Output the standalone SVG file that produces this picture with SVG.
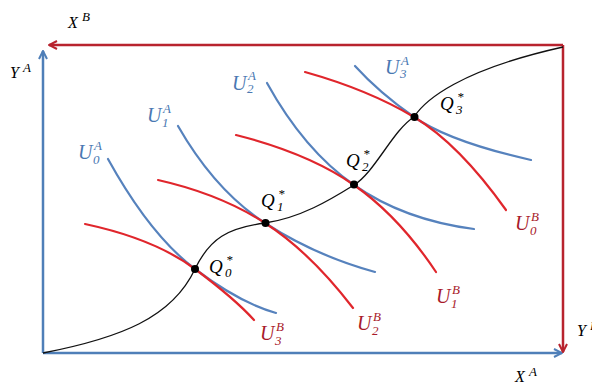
<svg xmlns="http://www.w3.org/2000/svg" width="592" height="383" viewBox="0 0 592 383">
<style>
.axA{stroke:#4f7fb8;stroke-width:2.5;fill:none}
.axB{stroke:#b8232e;stroke-width:2.5;fill:none}
.ua{stroke:#5682bd;stroke-width:2.2;fill:none;stroke-linecap:round}
.ub{stroke:#e0262c;stroke-width:2.2;fill:none;stroke-linecap:round}
.cc{stroke:#111;stroke-width:1.3;fill:none}
text{font-family:"Liberation Serif","DejaVu Serif",serif;font-style:italic}
.la{fill:#4a78b2;font-size:20px}
.lb{fill:#a8192a;font-size:20px}
.lq{fill:#000;font-size:19px}
.lx{fill:#000;font-size:16px}
.s{font-size:13px}
</style>
<defs>
<marker id="arA" viewBox="0 0 10 10" refX="9" refY="5" markerWidth="10" markerHeight="10" markerUnits="userSpaceOnUse" orient="auto">
<path d="M1,1 L9,5 L1,9" fill="none" stroke="#4f7fb8" stroke-width="2"/>
</marker>
<marker id="arB" viewBox="0 0 10 10" refX="9" refY="5" markerWidth="10" markerHeight="10" markerUnits="userSpaceOnUse" orient="auto">
<path d="M1,1 L9,5 L1,9" fill="none" stroke="#b8232e" stroke-width="2"/>
</marker>
</defs>
<g id="axes">
<path class="axA" d="M43,353 L43,51" marker-end="url(#arA)"/>
<path class="axA" d="M43,353 L562,353" marker-end="url(#arA)"/>
<path class="axB" d="M563,45 L49,45" marker-end="url(#arB)"/>
<path class="axB" d="M563,45 L563,352" marker-end="url(#arB)"/>
</g>
<g id="curves">
<path id="UA0" class="ua" d="M108,159 Q150,235 195,269 T276,313"/>
<path id="UA1" class="ua" d="M178,126 Q215,190.5 265,223 T375,272"/>
<path id="UA2" class="ua" d="M267,83 Q304,150 354,185 T474,229"/>
<path id="UA3" class="ua" d="M355,66 Q379,92.5 414,117 T531,160"/>
<path id="UB3" class="ub" d="M85,224 Q155,239 195,269 T254,320"/>
<path id="UB2" class="ub" d="M158,180 Q220,194 265,223 T353,308"/>
<path id="UB1" class="ub" d="M236,135 Q309,153.5 354,185 T436,272"/>
<path id="UB0" class="ub" d="M305,72 Q369,90 414,117 T506,210"/>
<path id="contract" class="cc" d="M43,353 C120,338 172,318 195,269 C210,238 228,228 265,223 C300,218 330,200 354,185 C375,172 393,130 414,117 C425,100 460,70 563,47"/>
</g>
<g id="points" fill="#000">
<circle cx="195" cy="269" r="4"/>
<circle cx="265.5" cy="223" r="4"/>
<circle cx="354" cy="184.5" r="4"/>
<circle cx="414.5" cy="117" r="4"/>
</g>
<g id="labels">
<text class="lx" x="68" y="28">X<tspan class="s" x="82" y="21">B</tspan></text>
<text class="lx" x="10" y="78">Y<tspan class="s" x="23" y="72">A</tspan></text>
<text class="lx" x="577" y="336">Y<tspan class="s" x="590" y="330">B</tspan></text>
<text class="lx" x="515" y="382">X<tspan class="s" x="529" y="376">A</tspan></text>
<text class="la" x="78" y="159">U<tspan class="s" x="94" y="150">A</tspan><tspan class="s" x="93" y="164">0</tspan></text>
<text class="la" x="147" y="122">U<tspan class="s" x="163" y="113">A</tspan><tspan class="s" x="162" y="127">1</tspan></text>
<text class="la" x="232" y="90">U<tspan class="s" x="248" y="80">A</tspan><tspan class="s" x="247" y="93">2</tspan></text>
<text class="la" x="385" y="74">U<tspan class="s" x="401" y="65">A</tspan><tspan class="s" x="400" y="78">3</tspan></text>
<text class="lb" x="515" y="230">U<tspan class="s" x="531" y="221">B</tspan><tspan class="s" x="530" y="235">0</tspan></text>
<text class="lb" x="436" y="303">U<tspan class="s" x="452" y="294">B</tspan><tspan class="s" x="451" y="308">1</tspan></text>
<text class="lb" x="357" y="330">U<tspan class="s" x="373" y="321">B</tspan><tspan class="s" x="372" y="335">2</tspan></text>
<text class="lb" x="260" y="340">U<tspan class="s" x="276" y="331">B</tspan><tspan class="s" x="275" y="345">3</tspan></text>
<text class="lq" x="209" y="273">Q<tspan class="s" x="226" y="264">*</tspan><tspan class="s" x="225" y="277">0</tspan></text>
<text class="lq" x="261" y="207">Q<tspan class="s" x="278" y="198">*</tspan><tspan class="s" x="277" y="211">1</tspan></text>
<text class="lq" x="346" y="167">Q<tspan class="s" x="363" y="158">*</tspan><tspan class="s" x="362" y="171">2</tspan></text>
<text class="lq" x="440" y="110">Q<tspan class="s" x="457" y="101">*</tspan><tspan class="s" x="456" y="114">3</tspan></text>
</g>
</svg>
